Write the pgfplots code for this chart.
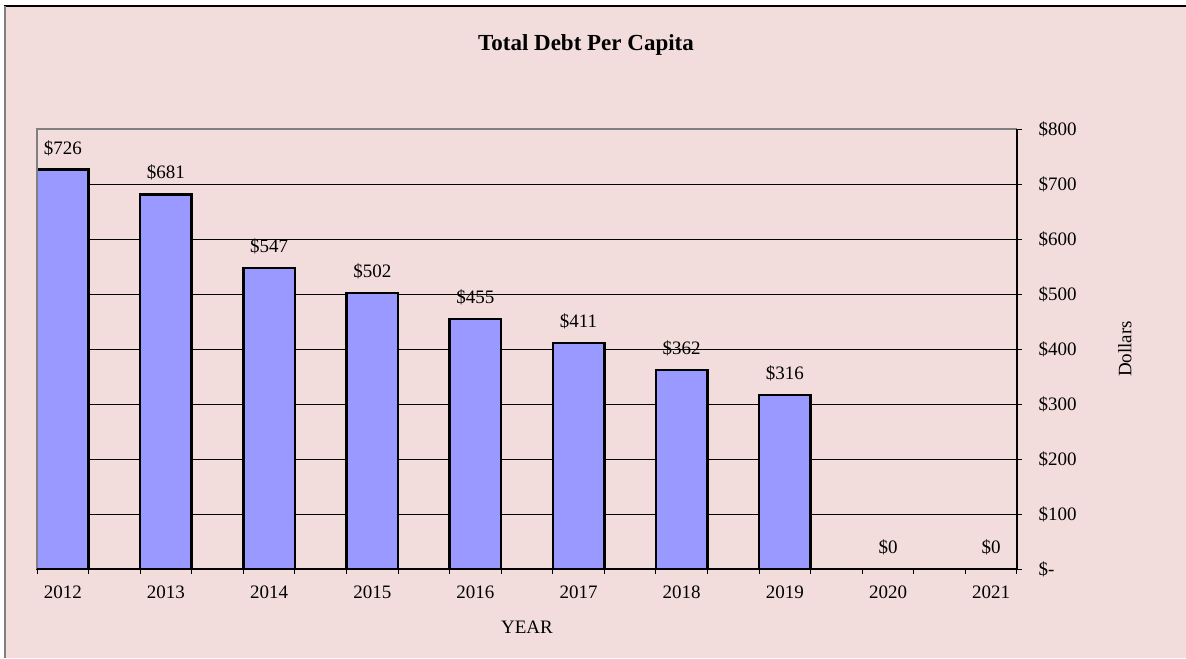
\documentclass[border=0pt]{standalone}
\usepackage{fontspec}
\setmainfont{Liberation Serif}
\usepackage{pgfplots}
\pgfplotsset{compat=1.18}
\definecolor{bgpink}{RGB}{242,221,220}
\definecolor{barblue}{RGB}{153,153,255}
\definecolor{framegray}{RGB}{128,128,128}

\begin{document}
\fontsize{9.5}{11}\selectfont
\begin{tikzpicture}
% page frame (1px = 0.5pt)
\useasboundingbox (0pt,0pt) rectangle (593pt,-329pt);
\fill[white] (0pt,0pt) rectangle (593pt,-329pt);
\fill[bgpink] (2.25pt,-3.25pt) rectangle (593pt,-329pt);
\draw[black, line width=1pt] (1.75pt,-3.25pt) -- (593pt,-3.25pt);
\draw[framegray, line width=1pt] (2.25pt,-3.25pt) -- (2.25pt,-329pt);
\node[font=\fontsize{11.5}{13}\selectfont\bfseries] at (293pt,-22.5pt) {Total Debt Per Capita};

\begin{axis}[
    at={(18.5pt,-284.5pt)}, anchor=south west,
    scale only axis,
    width=490pt, height=220pt,
    /pgf/number format/assume math mode=true,
    ybar, bar width=0.5,
    xmin=-0.25, xmax=9.25,
    ymin=0, ymax=800,
    xtick={-0.25,0.25,...,9.25},
    xticklabels={},
    extra x ticks={0,1,2,3,4,5,6,7,8,9},
    extra x tick labels={2012,2013,2014,2015,2016,2017,2018,2019,2020,2021},
    extra x tick style={major tick length=0pt},
    xticklabel style={yshift=-5pt},
    ytick={0,100,200,300,400,500,600,700,800},
    yticklabels={\$-,\$100,\$200,\$300,\$400,\$500,\$600,\$700,\$800},
    xtick pos=left, ytick pos=right, yticklabel pos=right,
    yticklabel style={anchor=west, xshift=5pt},
    tick align=outside,
    major tick length=2.5pt,
    tick style={black, line width=0.5pt},
    ymajorgrids,
    major grid style={black, line width=0.5pt},
    axis line style={draw=none},
    xlabel={YEAR},
    xlabel style={at={(axis description cs:0.5,0)}, anchor=center, yshift=-29pt},
    ylabel={Dollars},
    ylabel style={at={(axis description cs:1.11,0.5)}, anchor=center, rotate=0},
    nodes near coords={\$\pgfmathprintnumber{\pgfplotspointmeta}},
    nodes near coords style={anchor=south, inner sep=0pt, yshift=6.5pt, black},
    clip=false,
]
\addplot[fill=barblue, draw=black, line width=1.25pt] coordinates {
    (0,726) (1,681) (2,547) (3,502) (4,455)
    (5,411) (6,362) (7,316) (8,0) (9,0)
};
\draw[framegray, line width=1pt] (rel axis cs:0,0) -- (rel axis cs:0,1) -- (rel axis cs:1,1);
\draw[black, line width=1pt] (rel axis cs:0,0) -- (rel axis cs:1,0) -- (rel axis cs:1,1);
\end{axis}
\end{tikzpicture}
\end{document}
